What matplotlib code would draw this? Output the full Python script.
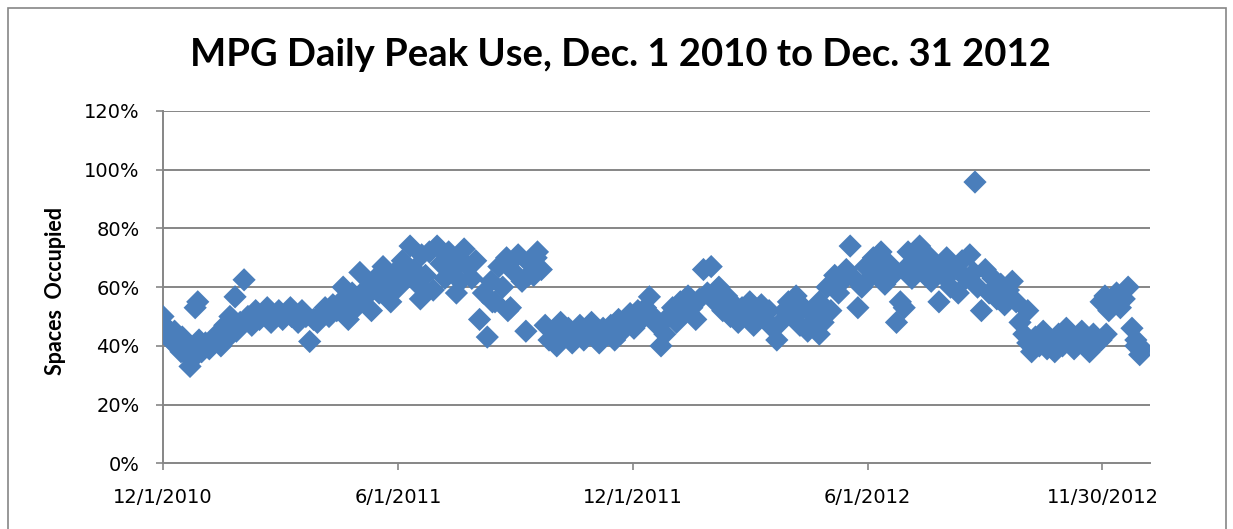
import matplotlib
matplotlib.use("Agg")
import matplotlib.pyplot as plt
from matplotlib.patches import Rectangle
import numpy as np

# ---- data (day index from 12/1/2010, occupancy %) ----
step_days = list(range(0, 760, 3))
step_vals = [
    # d 0-27
    50, 46, 42, 45, 40, 43, 37, 33, 36, 55,
    # d 30-57
    38, 41, 39, 42, 44, 40, 47, 43, 49, 45,
    # d 60-87
    48, 62.5, 50, 47, 52, 49, 51, 53, 48, 50,
    # d 90-117
    52, 49, 51, 53, 50, 48, 52, 50, 41.5, 49,
    # d 120-147
    48, 51, 53, 50, 54, 52, 55, 51, 49, 58,
    # d 150-177
    53, 65, 56, 60, 52, 63, 58, 67, 61, 55,
    # d 180-207
    65, 60, 69, 63, 74, 66, 61, 71, 64, 72,
    # d 210-237
    59, 74, 68, 63, 72, 66, 70, 62, 73, 67,
    # d 240-267
    63, 69, 49, 58, 43, 62, 55, 67, 60, 70,
    # d 270-297
    53, 65, 71, 62, 45, 68, 64, 72, 66, 47,
    # d 300-327
    42, 45, 40, 48, 43, 46, 41, 44, 47, 42,
    # d 330-357
    45, 48, 43, 41, 46, 44, 47, 42, 49, 45,
    # d 360-387
    48, 51, 46, 52, 49, 53, 56.7, 50, 47, 40,
    # d 390-417
    44, 50, 53, 48, 55, 51, 57, 53, 49, 56,
    # d 420-447
    66, 58, 67, 55, 60, 52, 57, 50, 54, 48,
    # d 450-477
    53, 50, 55, 47, 51, 54, 49, 52, 46, 42,
    # d 480-507
    48, 52, 55, 50, 57, 47, 53, 45, 51, 49,
    # d 510-537
    55, 48, 60, 52, 64, 58, 62, 66, 74, 63,
    # d 540-567
    53, 60, 67, 63, 70, 65, 72, 61, 68, 64,
    # d 570-597
    48, 55, 66, 72, 63, 69, 74, 65, 71, 62,
    # d 600-627
    68, 55, 64, 70, 60, 66, 58, 69, 63, 71,
    # d 630-657
    65, 60, 52, 66, 58, 63, 56, 61, 54, 59,
    # d 660-687
    62, 55, 48, 44, 41, 38, 43, 40, 45, 39,
    # d 690-717
    42, 38, 44, 40, 46, 41, 39, 43, 45, 40,
    # d 720-747
    38, 44, 41, 55, 57, 52, 54, 58, 53, 56,
    # d 750-759
    60, 46, 40, 37,
]
extra_days = [1, 8, 14, 19, 25, 28, 52, 56, 100, 140, 143, 175, 200, 228,
              256, 268, 284, 290, 510, 576, 631, 672, 729, 733, 756, 761]
extra_vals = [47, 41, 38, 40, 53, 42, 50, 56.7, 50, 60, 56, 57, 56, 58,
              55, 52, 64, 70, 44, 53, 95.8, 52, 42, 44, 42, 39]

tick_days = [0, 182.5, 365, 547.5, 730]
tick_labels = ["12/1/2010", "6/1/2011", "12/1/2011", "6/1/2012", "11/30/2012"]
y_ticks = [0, 20, 40, 60, 80, 100, 120]
y_labels = ["0%", "20%", "40%", "60%", "80%", "100%", "120%"]

W, H = 1233, 529
fig = plt.figure(figsize=(W / 100, H / 100), dpi=100)
fig.patch.set_facecolor("white")

gray = "#868686"
blue = "#4a7ebb"

ax = fig.add_axes([163 / W, 1 - 463.3 / H, (1150 - 163) / W, (463.3 - 111) / H])
ax.set_xlim(0, 767)
ax.set_ylim(0, 120)

for yv in y_ticks[1:]:
    ax.axhline(yv, color=gray, lw=1.4, zorder=1)

ax.scatter(step_days, step_vals, marker="D", s=140, color=blue,
           edgecolors="none", zorder=3)
ax.scatter(extra_days, extra_vals, marker="D", s=140, color=blue,
           edgecolors="none", zorder=3)

for s in ["top", "right"]:
    ax.spines[s].set_visible(False)
for s in ["left", "bottom"]:
    ax.spines[s].set_color(gray)
    ax.spines[s].set_linewidth(1.4)
    ax.spines[s].set_zorder(2)

ax.set_xticks(tick_days)
ax.set_xticklabels(tick_labels)
ax.set_yticks(y_ticks)
ax.set_yticklabels(y_labels)
ax.tick_params(axis="both", direction="out", length=5, width=1.2, color=gray,
               labelsize=14, labelcolor="black")
ax.tick_params(axis="y", pad=12)
ax.tick_params(axis="x", pad=13)
for lab in ax.get_xticklabels() + ax.get_yticklabels():
    lab.set_family("DejaVu Sans")

fig.text(620 / W, 1 - 55 / H, "MPG Daily Peak Use, Dec. 1 2010 to Dec. 31 2012",
         ha="center", va="center", fontsize=27.5, fontweight="bold", family="Lato")
fig.text(56 / W, 1 - 291 / H, "Spaces  Occupied", rotation=90,
         ha="center", va="center", fontsize=15.5, fontweight="bold", family="Lato")

fig.patches.append(Rectangle((8 / W, -0.05), (1226 - 8) / W, 1.05 - 8 / H,
                             transform=fig.transFigure, fill=False,
                             edgecolor=gray, lw=1.2))

fig.savefig("out.png", dpi=100)
